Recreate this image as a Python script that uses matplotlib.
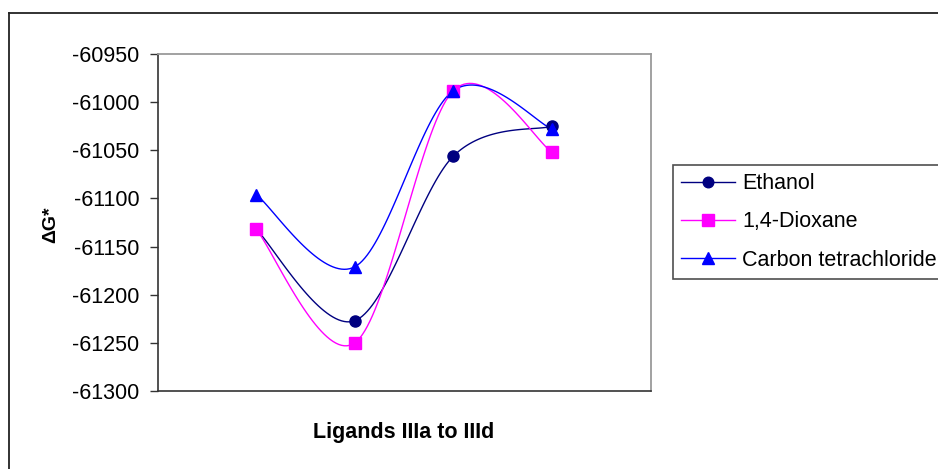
import numpy as np
import matplotlib
matplotlib.use("Agg")
import matplotlib.pyplot as plt
from matplotlib.lines import Line2D

# ---- data ----
categories = ["IIIa", "IIIb", "IIIc", "IIId"]
ethanol = [-61132, -61227, -61056, -61025]
dioxane = [-61132, -61250, -60988, -61052]
ccl4 = [-61096, -61171, -60988, -61028]
series_names = ["Ethanol", "1,4-Dioxane", "Carbon tetrachloride"]
y_ticks = [-60950, -61000, -61050, -61100, -61150, -61200, -61250, -61300]

plt.rcParams['font.family'] = ['Liberation Sans', 'DejaVu Sans']

W, H = 938, 469
fig = plt.figure(figsize=(W / 100, H / 100), dpi=100)
fig.patch.set_facecolor('white')

def fx(px):
    return px / W

def fy(py):
    return 1 - py / H

ax = fig.add_axes([fx(157.5), fy(391), fx(650.7) - fx(157.5), fy(54) - fy(391)])


def smooth(xs, ys, n=40):
    xs = np.asarray(xs, float)
    ys = np.asarray(ys, float)
    P = np.column_stack([xs, ys])
    Pe = np.vstack([P[0], P, P[-1]])
    out = []
    t = np.linspace(0, 1, n)[:, None]
    for i in range(len(P) - 1):
        p0 = Pe[i + 1]
        p3 = Pe[i + 2]
        c1 = p0 + (Pe[i + 2] - Pe[i]) / 6.0
        c2 = p3 - (Pe[i + 3] - Pe[i + 1]) / 6.0
        seg = ((1 - t) ** 3) * p0 + 3 * t * (1 - t) ** 2 * c1 + 3 * t ** 2 * (1 - t) * c2 + t ** 3 * p3
        out.append(seg if i == 0 else seg[1:])
    arr = np.vstack(out)
    return arr[:, 0], arr[:, 1]


x = np.arange(1, len(categories) + 1)
styles = [
    (ethanol, '#000080', 'o', 8),
    (dioxane, '#FF00FF', 's', 8.5),
    (ccl4, '#0000FF', '^', 9),
]
handles = []
for (vals, col, mk, ms), name in zip(styles, series_names):
    sx, sy = smooth(x, vals)
    ax.plot(sx, sy, color=col, lw=1.0, zorder=2)
    ax.plot(x, vals, linestyle='none', marker=mk, color=col, markersize=ms, zorder=3)
    handles.append(Line2D([], [], color=col, lw=1.0, marker=mk, markersize=ms * 0.95))

ax.set_xlim(0, 5)
ax.set_ylim(-61300, -60950)
ax.set_yticks(y_ticks)
ax.set_yticklabels([str(v) for v in y_ticks])
ax.set_xticks([])
ax.tick_params(axis='y', direction='out', length=6, width=1, color='#333333',
               labelsize=15.5, pad=7, labelcolor='black')
for s in ['left', 'bottom']:
    ax.spines[s].set_color('#333333')
    ax.spines[s].set_linewidth(1.2)
for s in ['top', 'right']:
    ax.spines[s].set_color('#9a9a9a')
    ax.spines[s].set_linewidth(1.3)

fig.text(fx(404), fy(432), "Ligands IIIa to IIId", ha='center', va='center',
         fontsize=15.5, fontweight='bold')
fig.text(fx(51), fy(225), "\u0394G*", ha='center', va='center', rotation=90,
         fontsize=14, fontweight='bold')

leg = fig.legend(handles, series_names, loc='upper left',
                 bbox_to_anchor=(fx(673), fy(165)), borderaxespad=0,
                 fontsize=15.5, handlelength=2.5, handletextpad=0.33,
                 labelspacing=0.8, borderpad=0.38, frameon=True, fancybox=False)
leg.get_frame().set_edgecolor('#222222')
leg.get_frame().set_linewidth(1.2)

# outer chart frame
fig.add_artist(Line2D([fx(9), fx(9)], [fy(13), fy(480)], color='#222222', lw=1.3,
                      transform=fig.transFigure))
fig.add_artist(Line2D([fx(9), fx(950)], [fy(13), fy(13)], color='#222222', lw=1.3,
                      transform=fig.transFigure))

fig.savefig("out.png", dpi=100)
